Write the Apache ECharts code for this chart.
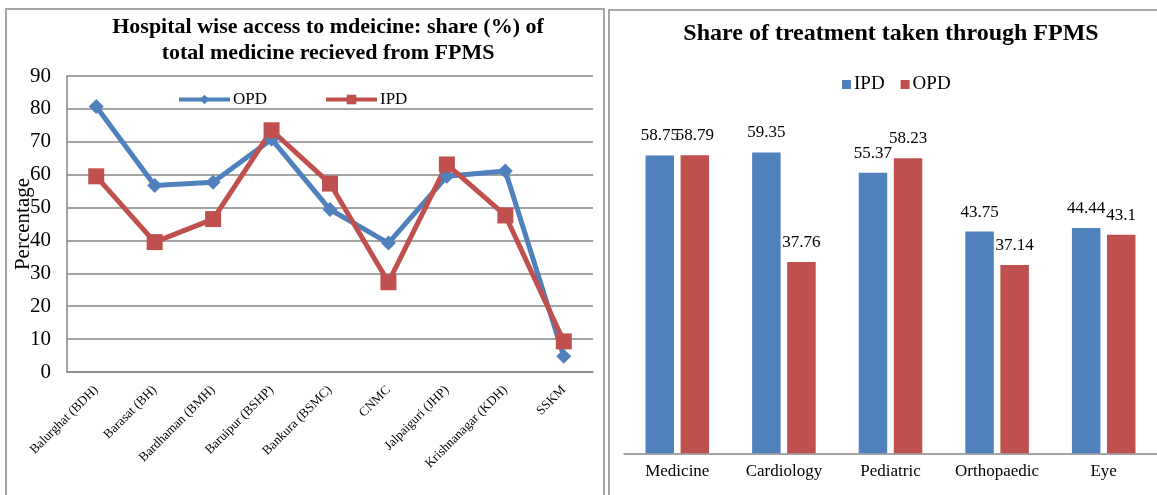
<!DOCTYPE html>
<html>
<head>
<meta charset="utf-8">
<script src="https://cdn.jsdelivr.net/npm/echarts@6/dist/echarts.min.js"></script>
<style>
  html, body { margin: 0; padding: 0; background: #fff; }
  #chart { width: 1157px; height: 495px; }
</style>
</head>
<body>
<div id="chart"></div>
<script>
  // left panel: hospital wise share (%)
  const hospitals = ['Balurghat (BDH)', 'Barasat (BH)', 'Bardhaman (BMH)', 'Baruipur (BSHP)',
    'Bankura (BSMC)', 'CNMC', 'Jalpaiguri (JHP)', 'Krishnanagar (KDH)', 'SSKM']
  const opdShare = [80.7, 56.7, 57.7, 70.8, 49.4, 39.2, 59.5, 61.1, 4.8]
  const ipdShare = [59.5, 39.5, 46.5, 73.5, 57.3, 27.3, 63.1, 47.6, 9.3]

  // right panel: share of treatment by department
  const departments = ['Medicine', 'Cardiology', 'Pediatric', 'Orthopaedic', 'Eye']
  const ipdTreatment = [58.75, 59.35, 55.37, 43.75, 44.44]
  const opdTreatment = [58.79, 37.76, 58.23, 37.14, 43.1]

  const serif = '"Liberation Serif", "Times New Roman", serif'
  const blue = '#4F81BD'
  const red = '#C0504D'
  const grey = '#868686'

  const chart = echarts.init(document.getElementById('chart'))

  chart.setOption({
    animation: false,
    backgroundColor: '#fff',
    textStyle: {fontFamily: serif, color: '#000'},
    title: [
      {
        text: 'Hospital wise access to mdeicine: share (%) of\ntotal medicine recieved from FPMS',
        left: 328,
        top: 14,
        textAlign: 'center',
        padding: 0,
        textStyle: {fontFamily: serif, fontSize: 22, fontWeight: 'bold', lineHeight: 26, color: '#000'}
      },
      {
        text: 'Share of treatment taken through FPMS',
        left: 891,
        top: 22,
        textAlign: 'center',
        padding: 0,
        textStyle: {fontFamily: serif, fontSize: 24, fontWeight: 'bold', color: '#000'}
      }
    ],
    legend: [
      {
        left: 177,
        top: 91,
        padding: 0,
        itemWidth: 51,
        itemHeight: 12,
        itemGap: 57,
        lineStyle: {width: 4},
        data: ['OPD', 'IPD'],
        textStyle: {fontFamily: serif, fontSize: 17, color: '#000', padding: [0, 0, 0, -2]}
      },
      {
        left: 842,
        top: 75,
        padding: 0,
        itemWidth: 9,
        itemHeight: 9,
        itemGap: 16,
        data: [
          {name: 'IPD', icon: 'rect', itemStyle: {color: blue}},
          {name: 'OPD', icon: 'rect', itemStyle: {color: red}}
        ],
        textStyle: {fontFamily: serif, fontSize: 19, color: '#000', padding: [0, 0, 0, -2]}
      }
    ],
    grid: [
      {left: 67, top: 76, width: 526, height: 296},
      {left: 624, top: 98.5, width: 535, height: 354.8}
    ],
    xAxis: [
      {
        type: 'category',
        gridIndex: 0,
        data: hospitals,
        boundaryGap: true,
        axisLine: {lineStyle: {color: grey, width: 1.5}},
        axisTick: {show: false},
        axisLabel: {rotate: 45, margin: 16, fontFamily: serif, fontSize: 13, color: '#000', interval: 0}
      },
      {
        type: 'category',
        gridIndex: 1,
        data: departments,
        axisLine: {lineStyle: {color: grey, width: 1.5}},
        axisTick: {show: false},
        axisLabel: {margin: 10, fontFamily: serif, fontSize: 17, color: '#000', interval: 0}
      }
    ],
    yAxis: [
      {
        type: 'value',
        gridIndex: 0,
        min: 0,
        max: 90,
        interval: 10,
        name: 'Percentage',
        nameLocation: 'middle',
        nameGap: 33,
        nameMoveOverlap: false,
        nameTextStyle: {fontFamily: serif, fontSize: 21, color: '#000'},
        axisLine: {show: true, lineStyle: {color: grey, width: 1.5}},
        axisTick: {show: false},
        axisLabel: {margin: 16, fontFamily: serif, fontSize: 21, color: '#000'},
        splitLine: {lineStyle: {color: grey, width: 1.5}}
      },
      {
        type: 'value',
        gridIndex: 1,
        min: 0,
        max: 70,
        show: false
      }
    ],
    series: [
      {
        name: 'OPD',
        type: 'line',
        xAxisIndex: 0,
        yAxisIndex: 0,
        data: opdShare,
        symbol: 'diamond',
        symbolSize: 15,
        itemStyle: {color: blue},
        lineStyle: {color: blue, width: 5}
      },
      {
        name: 'IPD',
        type: 'line',
        xAxisIndex: 0,
        yAxisIndex: 0,
        data: ipdShare,
        symbol: 'rect',
        symbolSize: 16,
        itemStyle: {color: red},
        lineStyle: {color: red, width: 5}
      },
      {
        name: 'IPD',
        type: 'bar',
        xAxisIndex: 1,
        yAxisIndex: 1,
        data: ipdTreatment,
        barWidth: 28.5,
        barGap: '23%',
        itemStyle: {color: blue},
        label: {show: true, position: 'top', distance: 11, fontFamily: serif, fontSize: 17, color: '#000'}
      },
      {
        name: 'OPD',
        type: 'bar',
        xAxisIndex: 1,
        yAxisIndex: 1,
        data: opdTreatment,
        barWidth: 28.5,
        barGap: '23%',
        itemStyle: {color: red},
        label: {show: true, position: 'top', distance: 11, fontFamily: serif, fontSize: 17, color: '#000'}
      }
    ],
    graphic: [
      {
        type: 'rect',
        shape: {x: 6, y: 9, width: 598, height: 500},
        style: {fill: 'none', stroke: '#a6a6a6', lineWidth: 2},
        silent: true
      },
      {
        type: 'rect',
        shape: {x: 609, y: 10, width: 560, height: 500},
        style: {fill: 'none', stroke: '#a6a6a6', lineWidth: 2},
        silent: true
      }
    ]
  })
</script>
</body>
</html>
